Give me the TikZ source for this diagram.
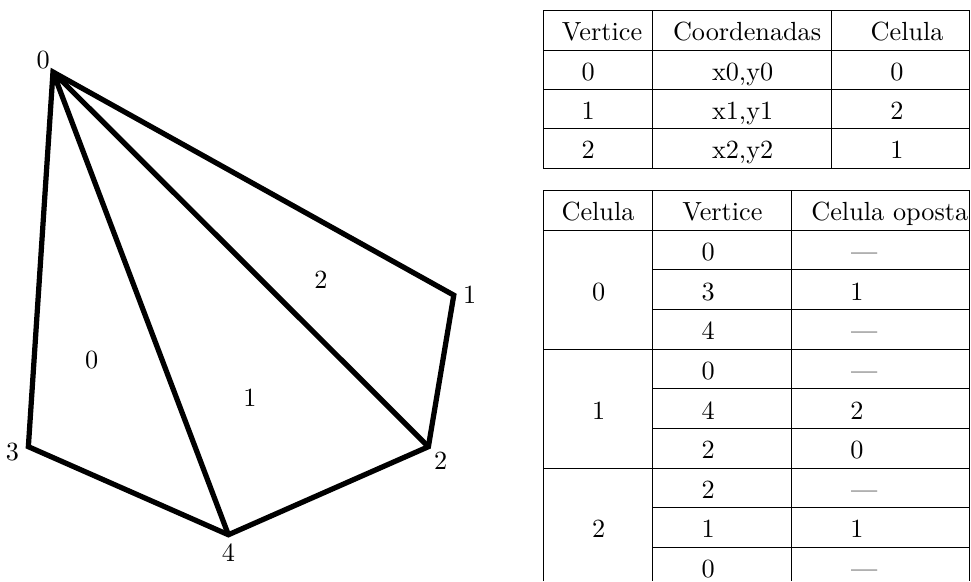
\documentclass[tikz,border=0pt]{standalone}
\usepackage{tikz}
\begin{document}
\begin{tikzpicture}[aresta/.style={line width=2pt},
    celtxt/.style={anchor=base,inner sep=0pt}]
    \useasboundingbox (0,0) rectangle (13.01,7.785);
    % Vertices da malha
    \coordinate (v0) at (0.71,6.82);
    \coordinate (v1) at (6.08,3.83);
    \coordinate (v2) at (5.74,1.80);
    \coordinate (v3) at (0.38,1.80);
    \coordinate (v4) at (3.06,0.62);
    % Arestas
    \draw[aresta] (v0) -- (v1) -- (v2) -- (v4) -- (v3) -- cycle;
    \draw[aresta] (v0) -- (v4) (v0) -- (v2);
    % Numeros dos vertices
    \node (n0) [above left,inner sep=1pt] at (v0) {0};
    \node (n1) [right] at (v1) {1};
    \node (n2) [below right,inner sep=2pt] at (v2) {2};
    \node (n3) [left,yshift=-2pt] at (v3) {3};
    \node (n4) [below] at (v4) {4};
    % Numeros das celulas
    \node (c0) at (1.23,2.96) {0};
    \node (c1) at (3.35,2.45) {1};
    \node (c2) at (4.30,4.03) {2};
    % Tabela de vertices
    \draw (7.276,7.642) rectangle (12.985,5.530);
    \foreach \y in {7.114,6.586,6.058} \draw (7.276,\y) -- (12.985,\y);
    \foreach \x in {8.737,11.14} \draw (\x,7.642) -- (\x,5.530);
    \foreach \x/\t [count=\i] in {8.067/Vertice, 10.01/Coordenadas, 12.154/Celula}
    \node[celtxt] (ha\i) at (\x,7.241) {\t};
    \foreach \v/\c/\k [count=\i] in {0/{x0,y0}/0, 1/{x1,y1}/2, 2/{x2,y2}/1} {
        \node[celtxt] (va\i) at (7.88,6.713-0.528*\i+0.528) {\v};
        \node[celtxt] (co\i) at (9.95,6.713-0.528*\i+0.528) {\c};
        \node[celtxt] (ce\i) at (12.016,6.713-0.528*\i+0.528) {\k};
    }
    % Tabela de celulas
    \draw (7.276,0) -- (7.276,5.230) -- (12.985,5.230) -- (12.985,0);
    \foreach \x in {8.737,10.599} \draw (\x,5.230) -- (\x,0);
    \foreach \i in {1,4,7} \draw (7.276,5.230-0.531*\i) -- (12.985,5.230-0.531*\i);
    \foreach \i in {2,3,5,6,8,9} \draw (8.737,5.230-0.531*\i) -- (12.985,5.230-0.531*\i);
    \foreach \x/\t [count=\i] in {8.013/Celula, 9.679/Vertice, 11.922/Celula oposta}
    \node[celtxt] (hb\i) at (\x,4.826) {\t};
    \foreach \i/\c in {2/0, 5/1, 8/2}
    \node[celtxt] (gc\i) at (8.02,5.357-0.531*\i-0.531) {\c};
    \foreach \v/\o/\ox [count=\i] in {0/---/11.58, 3/1/11.48, 4/---/11.58,
        0/---/11.58, 4/2/11.48, 2/0/11.48, 2/---/11.58, 1/1/11.48, 0/---/11.58} {
        \node[celtxt] (vb\i) at (9.49,5.357-0.531*\i-0.531) {\v};
        \node[celtxt] (op\i) at (\ox,5.357-0.531*\i-0.531) {\o};
    }
\end{tikzpicture}
\end{document}
